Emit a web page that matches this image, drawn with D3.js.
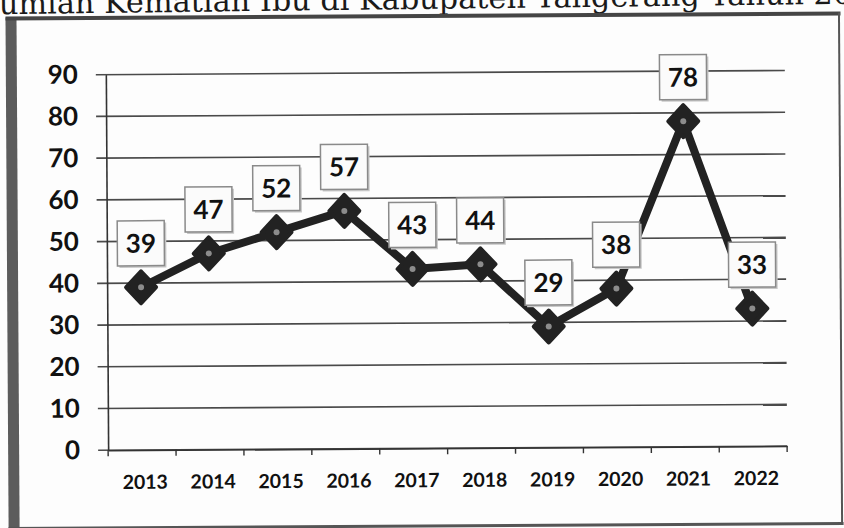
<!DOCTYPE html>
<html><head><meta charset="utf-8">
<script src="https://cdn.jsdelivr.net/npm/d3@7"></script>
<style>body{margin:0;background:#fff}svg{display:block}</style>
</head><body>
<svg id="c" width="844" height="528"></svg>
<script>
const title = "Jumlah Kematian Ibu di Kabupaten Tangerang Tahun 2013-2022";
const years = ["2013","2014","2015","2016","2017","2018","2019","2020","2021","2022"];
const deaths = [39,47,52,57,43,44,29,38,78,33];
const yTicks = [0,10,20,30,40,50,60,70,80,90];

const svg = d3.select("#c");
svg.append("rect").attr("width",844).attr("height",528).attr("fill","#fdfdfd");

// title (cropped at the top of the scan)
const tg = svg.append("g").attr("transform","rotate(-0.7,422,8)");
const t = tg.append("text").attr("font-family","'DejaVu Serif'").attr("font-size",30)
  .attr("y",9).attr("fill","#1a1a1a").text(title);
const node = t.node();
const pU = node.getSubStringLength(0,1);
const p2 = node.getSubStringLength(0,title.indexOf("2013"));
const k = (814-(-1))/(p2-pU);
t.attr("font-size",30*k).attr("x",-1-pU*k);

const g = svg.append("g").attr("transform","rotate(-0.35,422,264)");

// frame
g.append("rect").attr("x",7).attr("y",15).attr("width",11).attr("height",520).attr("fill","#5c5c5c");
g.append("line").attr("x1",7).attr("x2",842).attr("y1",16).attr("y2",16).attr("stroke","#454545").attr("stroke-width",4);
g.append("line").attr("x1",840.5).attr("x2",840.5).attr("y1",15).attr("y2",527).attr("stroke","#555").attr("stroke-width",2);
g.append("line").attr("x1",7).attr("x2",842).attr("y1",526).attr("y2",526).attr("stroke","#555").attr("stroke-width",3);

const x = d3.scaleBand().domain(years).range([107,786]);
const y = d3.scaleLinear().domain([0,90]).range([448.3,72.7]);

// gridlines
g.append("g").selectAll("line").data(yTicks).join("line")
  .attr("x1",97).attr("x2",786).attr("y1",d=>y(d)).attr("y2",d=>y(d))
  .attr("stroke","#4a4a4a").attr("stroke-width",1.6);

// y axis
const ya = g.append("g").attr("transform","translate(107,0)")
  .call(d3.axisLeft(y).tickValues(yTicks).tickSize(0).tickPadding(28));
ya.select(".domain").attr("stroke","#333").attr("stroke-width",1.6);
ya.selectAll("text").attr("font-family","Lato").attr("font-weight","bold").attr("font-size",26).attr("fill","#111");

// x axis
const xa = g.append("g").attr("transform",`translate(0,${y(0)})`)
  .call(d3.axisBottom(x).tickSize(0).tickPadding(25));
xa.select(".domain").attr("stroke","#333").attr("stroke-width",1.6);
xa.selectAll("text").attr("font-family","Lato").attr("font-weight","bold").attr("font-size",19.5)
  .attr("fill","#111").attr("dx",3);
const bounds = years.map(d=>x(d)).concat([x.range()[1]]);
xa.append("g").selectAll("line").data(bounds).join("line")
  .attr("x1",d=>d).attr("x2",d=>d).attr("y1",0).attr("y2",6)
  .attr("stroke","#333").attr("stroke-width",1.4);

const data = years.map((yr,i)=>({year:yr,v:deaths[i]}));
const cx = d=>x(d.year)+x.bandwidth()/2;

// line
g.append("path").datum(data)
  .attr("d",d3.line().x(cx).y(d=>y(d.v)))
  .attr("fill","none").attr("stroke","#222").attr("stroke-width",8)
  .attr("stroke-linejoin","round").attr("stroke-linecap","round");

// markers
const m = g.append("g").selectAll("g").data(data).join("g")
  .attr("transform",d=>`translate(${cx(d)},${y(d.v)})`);
m.append("path").attr("d","M0,-16L15,0L0,16L-15,0Z")
  .attr("fill","#222").attr("stroke","#222").attr("stroke-width",4).attr("stroke-linejoin","round");
m.append("circle").attr("r",3).attr("fill","#8c8c8c");

// data labels
const lb = g.append("g").selectAll("g").data(data).join("g")
  .attr("transform",d=>`translate(${cx(d)},${y(d.v)-44})`);
lb.append("rect").attr("x",-21.5).attr("y",-20.5).attr("width",47).attr("height",45).attr("fill","#c8c8c8");
lb.append("rect").attr("x",-23.5).attr("y",-22.5).attr("width",47).attr("height",45)
  .attr("fill","#fbfbfb").attr("stroke","#8a8a8a").attr("stroke-width",1.5);
lb.append("text").attr("text-anchor","middle").attr("dy","0.36em")
  .attr("font-family","Lato").attr("font-weight","bold").attr("font-size",26).attr("fill","#111")
  .text(d=>d.v);
</script>
</body></html>
